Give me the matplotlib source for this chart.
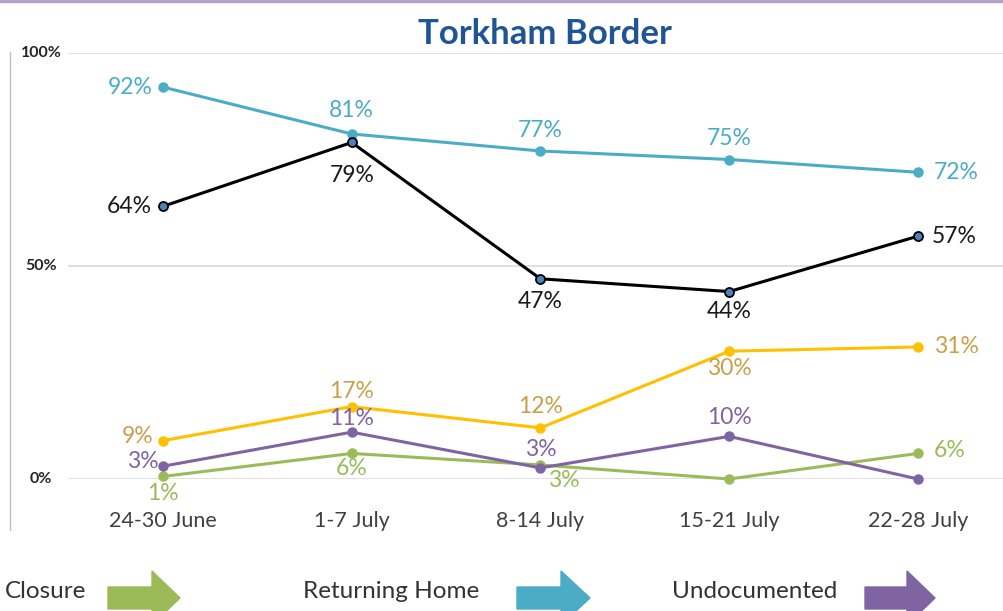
import matplotlib.pyplot as plt
from matplotlib.patches import Polygon
from matplotlib.lines import Line2D

plt.rcParams['font.family'] = ['Lato', 'DejaVu Sans']

# datos
weeks = ['24-30 June', '1-7 July', '8-14 July', '15-21 July', '22-28 July']
returning_home = [92, 81, 77, 75, 72]
black_share = [64, 79, 47, 44, 57]
yellow_share = [9, 17, 12, 30, 31]
undocumented = [3, 11, 2.6, 10, 0]
closure = [0.6, 6, 3.3, 0, 6]

returning_labels = ['92%', '81%', '77%', '75%', '72%']
black_labels = ['64%', '79%', '47%', '44%', '57%']
yellow_labels = ['9%', '17%', '12%', '30%', '31%']
undoc_labels = ['3%', '11%', '3%', '10%', None]
closure_labels = ['1%', '6%', '3%', None, '6%']

W, H = 1004, 611
fig = plt.figure(figsize=(W / 100, H / 100), dpi=100)


def fx(x):
    return x / W


def fy(y):
    return 1 - y / H


ax = fig.add_axes([fx(68), fy(479), (W - 68) / W, 426 / H])
ax.set_xlim(-0.503, 4.456)
ax.set_ylim(0, 100)
ax.axis('off')
for v in [0, 50, 100]:
    ax.axhline(v, color='#D9D9D9', lw=1.2, zorder=0)

x = range(len(weeks))

# series: (valores, etiquetas, color línea, color texto, posiciones etiquetas en px)
series = [
    (returning_home, returning_labels, '#4BACC6', '#4BACC6',
     [(-10, 0, 'right'), (0, 23, 'center'), (0, 20, 'center'), (0, 21, 'center'), (16, 0, 'left')]),
    (black_share, black_labels, 'black', '#1A1A1A',
     [(-11, 0, 'right'), (0, -33, 'center'), (0, -23, 'center'), (0, -20, 'center'), (14, 0, 'left')]),
    (yellow_share, yellow_labels, '#FFC000', '#C9A04A',
     [(-10, 4, 'right'), (0, 15, 'center'), (0, 21, 'center'), (0, -17, 'center'), (16, 0, 'left')]),
    (undocumented, undoc_labels, '#8064A2', '#8064A2',
     [(-4, 5, 'right'), (0, 14, 'center'), (0, 18, 'center'), (0, 19, 'center'), None]),
    (closure, closure_labels, '#9BBB59', '#9BBB59',
     [(0, -17, 'center'), (0, -15, 'center'), (23, -16, 'center'), None, (16, 3, 'left')]),
]

for vals, labs, col, tcol, pos in series[::-1]:
    if col == 'black':
        ax.plot(x, vals, color='black', lw=2.2, marker='o', ms=6.5,
                mfc='#4F81BD', mec='black', mew=1.3, clip_on=False, zorder=3)
    else:
        ax.plot(x, vals, color=col, lw=2.2, marker='o', ms=6.5,
                clip_on=False, zorder=2)
    for i, (v, lab) in enumerate(zip(vals, labs)):
        if lab is None:
            continue
        dx, dy, ha = pos[i]
        ax.annotate(lab, (i, v), xytext=(dx, dy), textcoords='offset pixels',
                    ha=ha, va='center', fontsize=16.5, color=tcol, zorder=4)

# etiquetas eje x
for i, w in enumerate(weeks):
    ax.annotate(w, (i, 0), xytext=(0, -42), textcoords='offset pixels',
                ha='center', va='center', fontsize=15.5, color='#404040')

# etiquetas eje y
for lab, y in [('100%', 53), ('50%', 266), ('0%', 479)]:
    fig.text(fx(41), fy(y), lab, ha='center', va='center', fontsize=11.5,
             fontweight='bold', color='#262626')

fig.text(fx(545), fy(34), 'Torkham Border', ha='center', va='center',
         fontsize=25, fontweight='bold', color='#1F5597')

# líneas decorativas
fig.add_artist(Line2D([0, 1], [fy(1), fy(1)], color='#B3A2C7', lw=2.5))
fig.add_artist(Line2D([fx(10.5), fx(10.5)], [fy(52), fy(530)], color='#BFBFBF', lw=1))


def arrow(x0, xh, x1, yc, color):
    pts = [(x0, yc - 11), (xh, yc - 11), (xh, yc - 27), (x1, yc),
           (xh, yc + 27), (xh, yc + 11), (x0, yc + 11)]
    fig.add_artist(Polygon([(fx(a), fy(b)) for a, b in pts], closed=True,
                           color=color, transform=fig.transFigure))


legend_items = [('Closure', 5, 108, 152, 180, '#9BBB59'),
                ('Returning Home', 303, 517, 561, 590, '#4BACC6'),
                ('Undocumented', 672, 865, 907, 935, '#8064A2')]
for name, tx, x0, xh, x1, col in legend_items:
    fig.text(fx(tx), fy(592), name, ha='left', va='center', fontsize=17.5, color='#333333')
    arrow(x0, xh, x1, 598, col)

plt.savefig('out.png', dpi=100)
